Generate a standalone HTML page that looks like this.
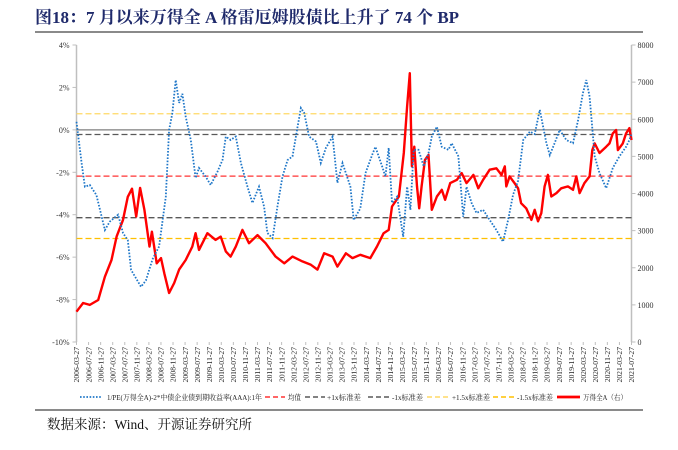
<!DOCTYPE html>
<html><head><meta charset="utf-8"><style>
body{margin:0;background:#fff;width:678px;height:445px;overflow:hidden;font-family:"Liberation Serif","Noto Serif CJK SC",serif;}
</style></head><body>
<svg id="c" width="678" height="445" xmlns="http://www.w3.org/2000/svg">
<text x="35" y="23" font-size="17" font-weight="bold" fill="#1f2a6b" font-family="Liberation Serif, Noto Serif CJK SC, serif">图18：7 月以来万得全 A 格雷厄姆股债比上升了 74 个 BP</text>
<rect x="35" y="31" width="608" height="2" fill="#8a8a8a"/>
<rect x="35" y="409" width="608" height="2" fill="#8a8a8a"/>
<text x="47" y="429" font-size="13.5" fill="#111">数据来源：Wind、开源证券研究所</text>
<g id="g"></g>
</svg>
<script>
const blueMonths=[0,1.7,2.8,4.4,6.6,9.4,11,13.8,15.4,17,18.1,21.4,23,25.2,27.4,29.6,30.7,31.8,32.9,34,35.1,36.2,37.9,39.5,40.6,42.8,44.5,46.7,48.4,49.5,51.1,52.8,54.5,56.7,58.3,60.5,62.2,63.3,65,66.6,68.3,70,71.6,73.3,74.4,75.5,77.1,79.4,81,82.7,84.9,86.5,88.2,90.8,91.9,94.1,95.8,98,99.1,101.3,102.4,103.5,104.6,106.3,108.3,109.6,110.7,111.8,113.4,115.1,116.7,117.8,119.5,121.1,123.3,124.4,126.6,128.2,129.3,131,132.6,134.8,137,139.2,141.4,143.1,144.7,146.4,148.1,150.3,151.9,153.6,155.8,156.9,158.5,160.2,162.4,164.6,166.3,167.9,169,170.1,171.8,173.4,175.6,177.8,180,182.2,183.3,184];
const blueValues=[0.38,-1.56,-2.68,-2.6,-3.07,-4.72,-4.33,-4.0,-4.86,-5.2,-6.6,-7.4,-7.1,-6.1,-5.5,-3.15,0,0.8,2.35,1.27,1.7,0.62,-0.48,-2.27,-1.8,-2.2,-2.6,-1.98,-1.42,-0.32,-0.48,-0.32,-1.56,-2.68,-3.45,-2.68,-3.62,-4.86,-5.1,-3.62,-2.2,-1.42,-1.25,0.15,1.03,0.8,-0.32,-0.55,-1.56,-0.85,-0.32,-2.5,-1.56,-2.68,-4.25,-3.7,-2.04,-1.19,-0.8,-1.72,-2.2,-0.85,-3.45,-3.15,-5.04,-2.68,-3.77,-0.94,-0.94,-1.72,-1.1,-0.32,0.15,-0.8,-0.94,-0.63,-1.25,-4.1,-2.68,-3.45,-3.92,-3.77,-4.25,-4.72,-5.27,-4.25,-3.07,-2.4,-0.48,-0.08,-0.2,0.94,-0.63,-1.19,-0.63,0,-0.48,-0.63,0.46,1.73,2.35,1.57,-1.25,-2.04,-2.75,-1.8,-1.25,-0.8,-0.48,-0.2];
const redMonths=[0,2.2,4.4,7.2,9.4,11.6,13.3,15.4,17,18.4,19.8,21.1,22.5,24.2,25,26.6,28,29.1,30.7,32.4,34,36.2,38.4,39.5,40.6,43.4,46.1,47.8,49.5,51.1,52.8,55,57.2,60,62.7,66,68.9,71.6,74.9,77.7,79.9,82.1,84.9,86.5,89.3,91.5,94.1,97.4,99.6,101.8,103.5,104.6,106.9,108.5,109.6,110.5,111.2,112,112.9,113.6,114.4,115.5,116.7,117.8,119.5,121.1,122.2,123.9,126.1,127.7,129.3,131.6,133.2,134.8,137,139.2,140.9,142,142.5,143.6,145.2,146.4,147.4,149.1,150.8,151.9,153,154.1,155.2,156.3,157.4,159.1,160.7,162.9,164.6,165.7,166.8,168.4,170.1,171,171.8,173.4,175.6,176.7,177.8,178.9,179.5,181.1,182.2,183.3,184];
const redValues=[817,1050,1000,1130,1760,2210,2840,3290,3910,4130,3380,4150,3560,2570,2970,2120,2260,1850,1320,1590,1950,2210,2570,2930,2480,2930,2750,2840,2440,2300,2570,3020,2660,2880,2660,2300,2120,2300,2170,2080,1950,2390,2300,2030,2390,2260,2350,2260,2570,2930,3020,3650,3920,5090,6340,7240,4730,5260,4190,3600,4190,4900,5040,3560,3920,4100,3830,4280,4370,4550,4280,4500,4140,4370,4640,4680,4500,4730,4190,4460,4280,4140,3740,3600,3290,3560,3250,3470,4190,4500,3920,4010,4140,4190,4100,4460,4010,4280,4460,5170,5350,5090,5260,5350,5620,5710,5170,5350,5620,5760,5440];
const refLevels=[0,-0.22,-2.18,-4.14,0.76,-5.12];
const refNames=['zero-line','plus-1-std-line','mean-line','minus-1-std-line','plus-1.5-std-line','minus-1.5-std-line'];
const refColors=['#7f7f7f','#595959','#ff3333','#595959','#ffd966','#ffc000'];
const refDash=['','6 3','6 3','6 3','6 3','6 3'];
const leftTicks=[4,2,0,-2,-4,-6,-8,-10];
const rightTicks=[8000,7000,6000,5000,4000,3000,2000,1000,0];
const NS='http://www.w3.org/2000/svg';
const g=document.getElementById('g');
const X0=76.5,X1=631.5,Y0=45,Y1=342,NM=184;
const xS=m=>X0+(X1-X0)*m/NM;
const yL=v=>Y0+(4-v)/14*(Y1-Y0);
const yR=v=>Y1-v/8000*(Y1-Y0);
function el(t,a){const e=document.createElementNS(NS,t);for(const k in a)e.setAttribute(k,a[k]);g.appendChild(e);return e;}
let e=el('line',{x1:X0,y1:Y0,x2:X0,y2:Y1,stroke:'#bfbfbf','stroke-width':1.5});


e=el('line',{x1:X1,y1:Y0,x2:X1,y2:Y1,stroke:'#bfbfbf','stroke-width':1.5});


leftTicks.forEach(v=>{const y=yL(v);el('line',{x1:X0-4,y1:y,x2:X0,y2:y,stroke:'#bfbfbf'});
const t=el('text',{x:X0-7,y:y+3,'font-size':8,'text-anchor':'end',fill:'#333'});t.textContent=v+'%';

});
rightTicks.forEach(v=>{const y=yR(v);el('line',{x1:X1,y1:y,x2:X1+4,y2:y,stroke:'#bfbfbf'});
const t=el('text',{x:X1+6,y:y+3,'font-size':8,fill:'#333'});t.textContent=v;

});
for(let m=0;m<=NM;m+=4){const x=xS(m);el('line',{x1:x,y1:Y1,x2:x,y2:Y1+3,stroke:'#bfbfbf'});
const mo=3+m,yr=2006+Math.floor((mo-1)/12),mm=((mo-1)%12)+1;
const t=el('text',{x:0,y:0,'font-size':7.6,'text-anchor':'end',fill:'#222',transform:`translate(${x+2.7},347) rotate(-90)`});
t.textContent=yr+'-'+String(mm).padStart(2,'0')+'-27';

}
refLevels.forEach((v,i)=>{const a={x1:X0,y1:yL(v),x2:X1,y2:yL(v),stroke:refColors[i],'stroke-width':1.3};if(refDash[i])a['stroke-dasharray']=refDash[i];
const l=el('line',a);

});
let p=el('polyline',{points:redMonths.map((m,i)=>xS(m).toFixed(1)+','+yR(redValues[i]).toFixed(1)).join(' '),fill:'none',stroke:'#ff0000','stroke-width':2.4,'stroke-linejoin':'round'});


p=el('polyline',{points:blueMonths.map((m,i)=>xS(m).toFixed(1)+','+yL(blueValues[i]).toFixed(1)).join(' '),fill:'none',stroke:'#1f77c8','stroke-width':1.8,'stroke-dasharray':'1.6 1.6'});


const LY=397;
const leg=[['1/PE(万得全A)-2*中债企业债到期收益率(AAA):1年','#1f77c8','1.6 1.6',1.8,80,102,107,155],['均值','#ff3333','5 3',1.5,265,285,288,13],['+1x标准差','#595959','5 3',1.5,305,325,327,34],['-1x标准差','#595959','5 3',1.5,368,390,392,31],['+1.5x标准差','#ffd966','5 3',1.5,427,450,452,38],['-1.5x标准差','#ffc000','5 3',1.5,493,515,517,36],['万得全A（右）','#ff0000','',2.8,557,580,583,44]];
leg.forEach(([txt,c,d,w,x,x2,tx,tl])=>{const a={x1:x,y1:LY,x2:x2,y2:LY,stroke:c,'stroke-width':w};if(d)a['stroke-dasharray']=d;
const l=el('line',a);


const t=el('text',{x:tx,y:LY+3,'font-size':7.4,fill:'#222',textLength:tl,lengthAdjust:'spacingAndGlyphs'});t.textContent=txt;

});
</script>
</body></html>
